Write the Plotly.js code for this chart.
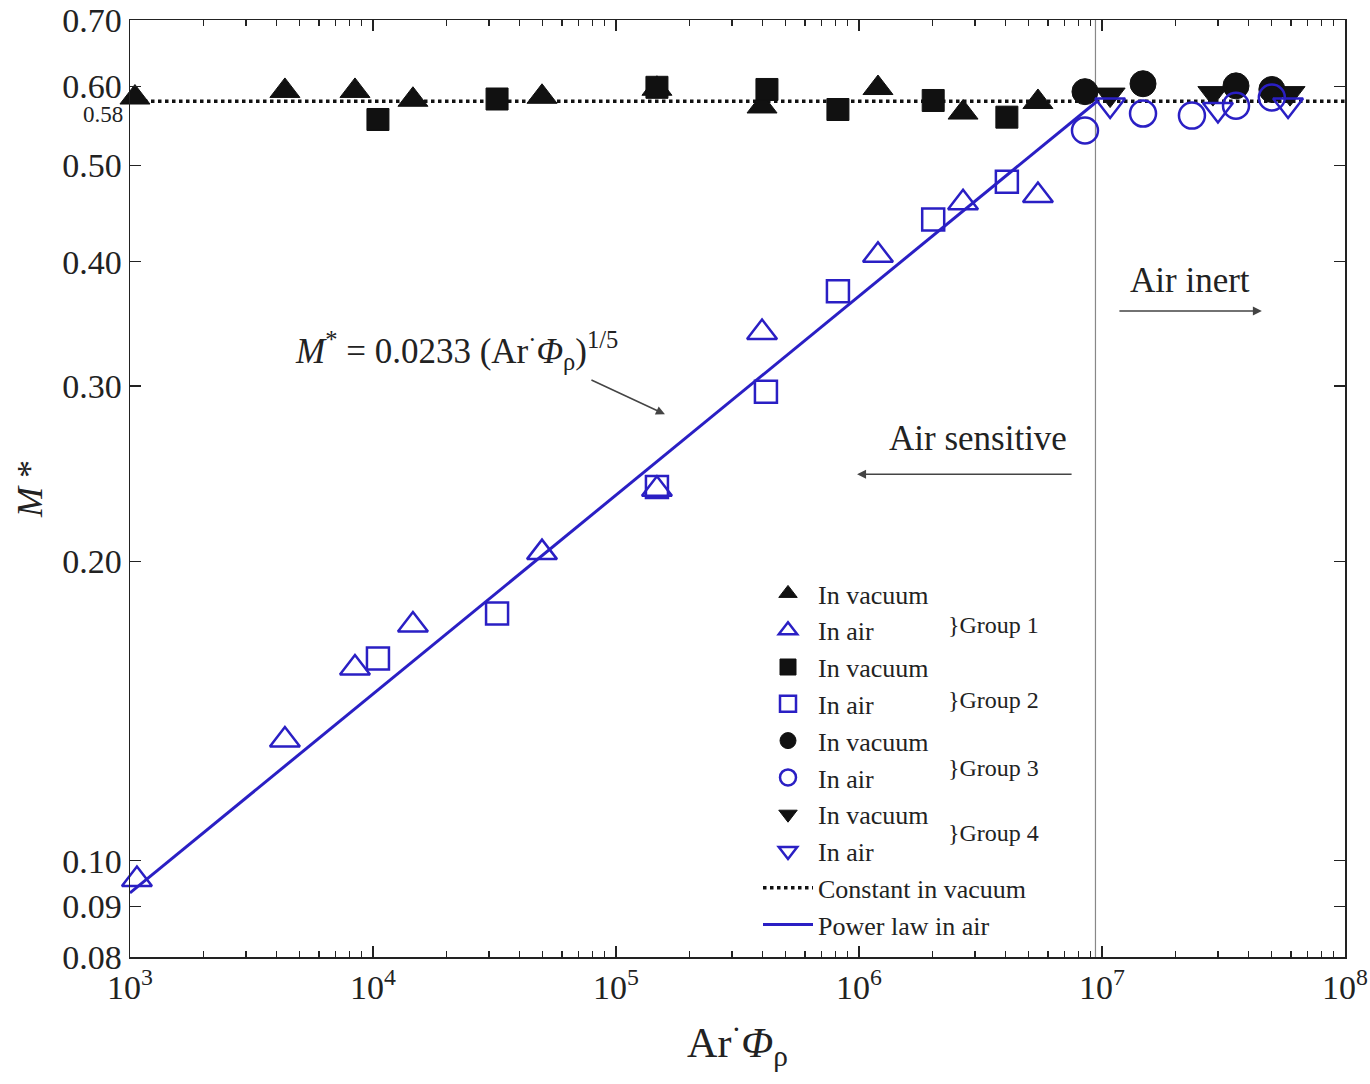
<!DOCTYPE html>
<html>
<head>
<meta charset="utf-8">
<script src="https://cdn.plot.ly/plotly-3.0.1.min.js"></script>
<style>body{margin:0;background:#fff}#chart{width:1370px;height:1084px}</style>
</head>
<body>
<div id="chart"></div>
<script>
// ---- data ----
const g1VacX = [1.048e3, 4.34e3, 8.43e3, 1.46e4, 4.96e4, 1.474e5, 3.99e5, 1.197e6, 2.68e6, 5.45e6];
const g1VacY = [0.585, 0.594, 0.594, 0.582, 0.586, 0.597, 0.573, 0.598, 0.565, 0.579];
const g1AirX = [1.068e3, 4.34e3, 8.43e3, 1.46e4, 4.96e4, 1.474e5, 3.99e5, 1.197e6, 2.68e6, 5.45e6];
const g1AirY = [0.0957, 0.1322, 0.1562, 0.1725, 0.204, 0.2362, 0.3396, 0.406, 0.4586, 0.4663];

const g2VacX = [1.048e4, 3.24e4, 1.474e5, 4.18e5, 8.19e5, 2.02e6, 4.06e6];
const g2VacY = [0.556, 0.583, 0.599, 0.596, 0.569, 0.581, 0.559];
const g2AirX = [1.048e4, 3.24e4, 1.474e5, 4.14e5, 8.19e5, 2.02e6, 4.06e6];
const g2AirY = [0.1597, 0.1772, 0.2375, 0.296, 0.3735, 0.441, 0.4815];

const g3VacX = [8.51e6, 1.475e7, 3.56e7, 5.0e7];
const g3VacY = [0.593, 0.604, 0.601, 0.596];
const g3AirX = [8.51e6, 1.475e7, 2.345e7, 3.56e7, 5.0e7];
const g3AirY = [0.542, 0.5637, 0.561, 0.574, 0.585];

const g4VacX = [1.08e7, 2.86e7, 5.94e7];
const g4VacY = [0.589, 0.591, 0.591];
const g4AirX = [1.08e7, 3.0e7, 5.83e7];
const g4AirY = [0.575, 0.569, 0.575];

const constX = [1e3, 1e8];
const constY = [0.58, 0.58];
const fitX = [1e3, 9.55e6];
const fitY = [0.0928, 0.58];
const boundaryX = 9.4e6;

const xTickVals = [1e3, 1e4, 1e5, 1e6, 1e7, 1e8];
const xTickText = ['10<sup>3</sup>', '10<sup>4</sup>', '10<sup>5</sup>', '10<sup>6</sup>', '10<sup>7</sup>', '10<sup>8</sup>'];
const yTickVals = [0.08, 0.09, 0.10, 0.20, 0.30, 0.40, 0.50, 0.60, 0.70];
const yTickText = ['0.08', '0.09', '0.10', '0.20', '0.30', '0.40', '0.50', '0.60', '0.70'];

// ---- styling ----
const BLUE = '#2a1fc4';
const BLACK = '#111111';
const FONT = 'Liberation Serif, Times New Roman, serif';
const TXT = '#222222';

const minorX = [];
for (let e = 3; e < 8; e++) for (let d = 2; d <= 9; d++) minorX.push(d * Math.pow(10, e));

function vac(x, y, sym, size, rank) {
  return {x, y, type: 'scatter', mode: 'markers', name: 'In vacuum', legendrank: rank, cliponaxis: false,
    marker: {symbol: sym, size: size, color: BLACK, line: {color: BLACK, width: 1}}};
}
function air(x, y, sym, size, rank) {
  return {x, y, type: 'scatter', mode: 'markers', name: 'In air', legendrank: rank, cliponaxis: false,
    marker: {symbol: sym + '-open', size: size, color: BLUE, line: {color: BLUE, width: 2.5}}};
}

const traces = [
  {x: constX, y: constY, type: 'scatter', mode: 'lines', name: 'Constant in vacuum', legendrank: 9,
    line: {color: BLACK, width: 3.5, dash: 'dot'}},
  vac(g1VacX, g1VacY, 'triangle-up', 26, 1),
  vac(g2VacX, g2VacY, 'square', 22, 3),
  vac(g3VacX, g3VacY, 'circle', 26, 5),
  vac(g4VacX, g4VacY, 'triangle-down', 26, 7),
  air(g1AirX, g1AirY, 'triangle-up', 26, 2),
  air(g2AirX, g2AirY, 'square', 22, 4),
  air(g3AirX, g3AirY, 'circle', 26, 6),
  air(g4AirX, g4AirY, 'triangle-down', 26, 8),
  {x: fitX, y: fitY, type: 'scatter', mode: 'lines', name: 'Power law in air', legendrank: 10,
    line: {color: BLUE, width: 3}}
];

function px2paperX(px) { return (px - 130) / 1215; }
function px2paperY(py) { return (957 - py) / 937; }

const groupLabels = ['}Group 1', '}Group 2', '}Group 3', '}Group 4'];
const groupPy = [625, 700, 768, 833];

const annotations = [
  {xref: 'paper', yref: 'y', x: 0, y: Math.log10(0.58), xanchor: 'right', yanchor: 'middle', xshift: -5, yshift: -13,
    text: '0.58', showarrow: false, font: {family: FONT, size: 23, color: TXT}},
  {xref: 'paper', yref: 'paper', x: px2paperX(293), y: px2paperY(350), xanchor: 'left', yanchor: 'middle',
    text: '<i>M</i><sup>*</sup> = 0.0233 (Ar<sup>·</sup><i>Φ</i><sub>ρ</sub>)<sup>1/5</sup>', showarrow: false,
    font: {family: FONT, size: 35, color: TXT}},
  {xref: 'x', yref: 'y', x: Math.log10(1.59e5), y: Math.log10(0.281), ax: -75, ay: -35, axref: 'pixel', ayref: 'pixel',
    text: '', showarrow: true, arrowhead: 2, arrowsize: 1.2, arrowwidth: 1.5, arrowcolor: '#444'},
  {xref: 'paper', yref: 'paper', x: px2paperX(978), y: px2paperY(438), xanchor: 'center', yanchor: 'middle',
    text: 'Air sensitive', showarrow: false, font: {family: FONT, size: 35, color: TXT}},
  {xref: 'x', yref: 'y', x: Math.log10(9.82e5), y: Math.log10(0.2446), ax: 216, ay: 0, axref: 'pixel', ayref: 'pixel',
    text: '', showarrow: true, arrowhead: 2, arrowsize: 1.2, arrowwidth: 1.5, arrowcolor: '#444'},
  {xref: 'paper', yref: 'paper', x: px2paperX(1190), y: px2paperY(280), xanchor: 'center', yanchor: 'middle',
    text: 'Air inert', showarrow: false, font: {family: FONT, size: 35, color: TXT}},
  {xref: 'x', yref: 'y', x: Math.log10(4.55e7), y: Math.log10(0.357), ax: -144, ay: 0, axref: 'pixel', ayref: 'pixel',
    text: '', showarrow: true, arrowhead: 2, arrowsize: 1.2, arrowwidth: 1.5, arrowcolor: '#444'}
];
groupLabels.forEach((t, i) => annotations.push({
  xref: 'paper', yref: 'paper', x: px2paperX(946), y: px2paperY(groupPy[i]), xanchor: 'left', yanchor: 'middle',
  text: t, showarrow: false, font: {family: FONT, size: 24, color: TXT}
}));

const layout = {
  width: 1370, height: 1084,
  margin: {l: 130, r: 25, t: 20, b: 127},
  paper_bgcolor: '#fff', plot_bgcolor: '#fff',
  font: {family: FONT, color: TXT},
  showlegend: true,
  legend: {x: px2paperX(758), y: px2paperY(570), xanchor: 'left', yanchor: 'top',
    font: {family: FONT, size: 26, color: TXT}, bgcolor: 'rgba(255,255,255,0)', borderwidth: 0,
    itemwidth: 50, tracegroupgap: 0},
  xaxis: {type: 'log', range: [3, 8], tickmode: 'array', tickvals: xTickVals, ticktext: xTickText,
    ticks: 'inside', ticklen: 11, tickwidth: 1.2, tickcolor: '#222',
    minor: {tickmode: 'array', tickvals: minorX, ticks: 'inside', ticklen: 6, tickwidth: 1.2, tickcolor: '#222', showgrid: false},
    showline: true, linecolor: '#222', linewidth: 1.5, mirror: 'ticks', showgrid: false, zeroline: false,
    tickfont: {family: FONT, size: 34, color: TXT},
    title: {text: 'Ar<sup>·</sup><i>Φ</i><sub>ρ</sub>', font: {family: FONT, size: 42, color: TXT}, standoff: 22},
    automargin: false},
  yaxis: {type: 'log', range: [Math.log10(0.08), Math.log10(0.7)], tickmode: 'array', tickvals: yTickVals, ticktext: yTickText,
    ticks: 'inside', ticklen: 11, tickwidth: 1.2, tickcolor: '#222',
    showline: true, linecolor: '#222', linewidth: 1.5, mirror: 'ticks', showgrid: false, zeroline: false,
    tickfont: {family: FONT, size: 34, color: TXT},
    title: {text: '<i>M</i> *', font: {family: FONT, size: 36, color: TXT}, standoff: 8},
    automargin: false},
  shapes: [
    {type: 'line', xref: 'x', yref: 'paper', x0: boundaryX, x1: boundaryX, y0: 0, y1: 1,
      line: {color: '#888', width: 1.2}, layer: 'below'}
  ],
  annotations: annotations
};

Plotly.newPlot('chart', traces, layout, {staticPlot: true});
</script>
</body>
</html>
